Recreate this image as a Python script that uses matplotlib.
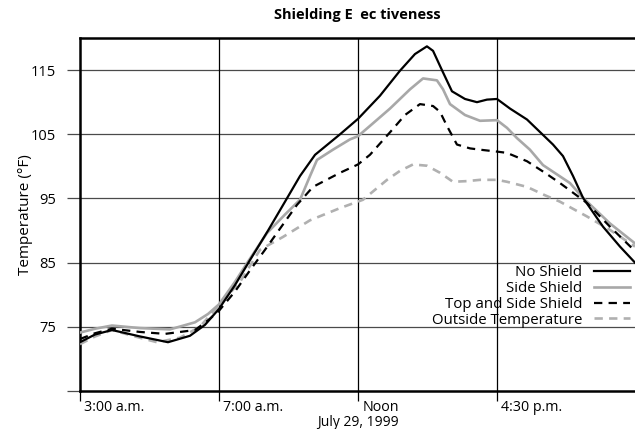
import matplotlib
matplotlib.use("Agg")
import matplotlib.pyplot as plt
import matplotlib.transforms as mtransforms

plt.rcParams['font.family'] = ['Open Sans', 'DejaVu Sans']
plt.rcParams['lines.scale_dashes'] = False

tick_pos = [0, 1, 2, 3]
tick_labels = ["3:00 a.m.", "7:00 a.m.", "Noon", "4:30 p.m."]
y_ticks = [65, 75, 85, 95, 105, 115]
y_labels = ["", "75", "85", "95", "105", "115"]

no_x = [0, 0.108, 0.230, 0.432, 0.633, 0.791, 0.899, 1.0, 1.115, 1.223, 1.353, 1.475,
        1.583, 1.691, 1.871, 2.0, 2.158, 2.302, 2.410, 2.496, 2.540, 2.604, 2.676,
        2.770, 2.856, 2.928, 3.0, 3.094, 3.216, 3.403, 3.475, 3.547, 3.619, 3.763,
        3.885, 3.993]
no_y = [72.6, 73.8, 74.5, 73.5, 72.6, 73.6, 75.3, 77.8, 81.5, 85.4, 90.0, 94.5,
        98.5, 101.8, 105.0, 107.4, 111.0, 114.9, 117.5, 118.7, 118.0, 115.0, 111.7,
        110.5, 110.0, 110.4, 110.5, 109.0, 107.3, 103.4, 101.6, 98.5, 95.1, 90.6,
        87.5, 85.0]

side_x = [0, 0.108, 0.230, 0.432, 0.647, 0.827, 0.921, 1.0, 1.115, 1.201, 1.345, 1.475,
          1.583, 1.655, 1.705, 1.820, 1.942, 2.0, 2.086, 2.230, 2.374, 2.468, 2.568,
          2.612, 2.662, 2.770, 2.878, 3.0, 3.072, 3.144, 3.237, 3.331, 3.525, 3.619,
          3.813, 3.993]
side_y = [74.1, 74.7, 75.2, 74.8, 74.6, 75.7, 77.0, 78.5, 82.0, 84.9, 89.6, 92.5,
          94.8, 98.5, 101.0, 102.6, 104.2, 104.7, 106.3, 109.0, 112.0, 113.7, 113.4,
          112.0, 109.7, 108.0, 107.1, 107.2, 106.0, 104.4, 102.6, 100.2, 97.4, 95.1,
          91.1, 88.0]

top_x = [0, 0.108, 0.230, 0.432, 0.612, 0.827, 0.921, 1.0, 1.115, 1.223, 1.331, 1.439,
         1.561, 1.676, 1.871, 2.0, 2.086, 2.230, 2.338, 2.446, 2.540, 2.590, 2.640,
         2.712, 2.806, 2.878, 3.0, 3.072, 3.216, 3.345, 3.453, 3.647, 3.813, 3.993]
top_y = [73.1, 74.0, 74.7, 74.2, 73.9, 74.5, 76.0, 77.5, 80.5, 83.8, 87.0, 90.3,
         94.0, 96.8, 99.0, 100.3, 101.8, 105.3, 108.0, 109.7, 109.4, 108.5, 106.3,
         103.4, 102.8, 102.6, 102.3, 102.1, 100.8, 99.0, 97.4, 94.3, 90.6, 86.8]

out_x = [0, 0.108, 0.230, 0.396, 0.554, 0.719, 0.863, 1.0, 1.151, 1.295, 1.460, 1.655,
         1.871, 2.036, 2.209, 2.302, 2.396, 2.496, 2.590, 2.683, 2.784, 2.878, 3.0,
         3.072, 3.216, 3.345, 3.453, 3.647, 3.813, 3.993]
out_y = [72.3, 73.5, 74.5, 73.5, 72.6, 73.3, 75.0, 78.4, 82.0, 87.0, 89.0, 91.6,
         93.5, 94.8, 97.9, 99.3, 100.3, 100.1, 99.0, 97.6, 97.7, 97.9, 97.9,
         97.6, 96.8, 95.5, 94.5, 92.2, 90.1, 87.5]

fig = plt.figure(figsize=(6.35, 4.29), dpi=100)
ax = fig.add_axes([80/635, 1 - 391/429, 555/635, (391 - 38)/429])

ax.plot(no_x, no_y, color="black", lw=1.6, label="No Shield", zorder=5)
ax.plot(side_x, side_y, color="#a8a8a8", lw=1.9, label="Side Shield", zorder=4)
ax.plot(top_x, top_y, color="black", lw=1.6, dashes=(6, 4.5), label="Top and Side Shield", zorder=5)
ax.plot(out_x, out_y, color="#b0b0b0", lw=1.9, dashes=(6, 4.5), label="Outside Temperature", zorder=3)

ax.set_xlim(0, 3.993)
ax.set_ylim(65, 120)

ax.set_yticks(y_ticks)
ax.set_yticklabels(y_labels)
ax.set_xticks(tick_pos)
ax.set_xticklabels(tick_labels)

for y in y_ticks[1:]:
    ax.axhline(y, color="#4a4a4a", lw=0.9, zorder=1)
for x in tick_pos[1:]:
    ax.axvline(x, color="black", lw=0.9, zorder=1)

ax.spines["right"].set_visible(False)
for s in ["left", "top", "bottom"]:
    ax.spines[s].set_linewidth(1.8)

ax.tick_params(axis="y", direction="out", length=9.5, width=0.9, color="#4a4a4a",
               labelsize=10.5, pad=7.5)
ax.tick_params(axis="x", direction="out", length=7.5, width=0.9, color="black",
               labelsize=10.3, pad=-0.8)
offset = mtransforms.ScaledTranslation(3 / 72, 0, fig.dpi_scale_trans)
for lab in ax.get_xticklabels():
    lab.set_horizontalalignment("left")
    lab.set_transform(lab.get_transform() + offset)

ax.set_ylabel("Temperature (°F)", fontsize=11, labelpad=-1.5)
fig.text(0.563, 0.007, "July 29, 1999", fontsize=10, ha="center", va="baseline")
ax.set_title("Shielding E  ec tiveness", fontsize=10.5, fontweight="bold", pad=14)

ax.legend(loc="lower right", bbox_to_anchor=(1.005, 0.158), frameon=False,
          markerfirst=False, fontsize=10.8, handlelength=2.4, handletextpad=0.8,
          labelspacing=0.06, borderpad=0.0)

fig.savefig("out.png", dpi=100)
